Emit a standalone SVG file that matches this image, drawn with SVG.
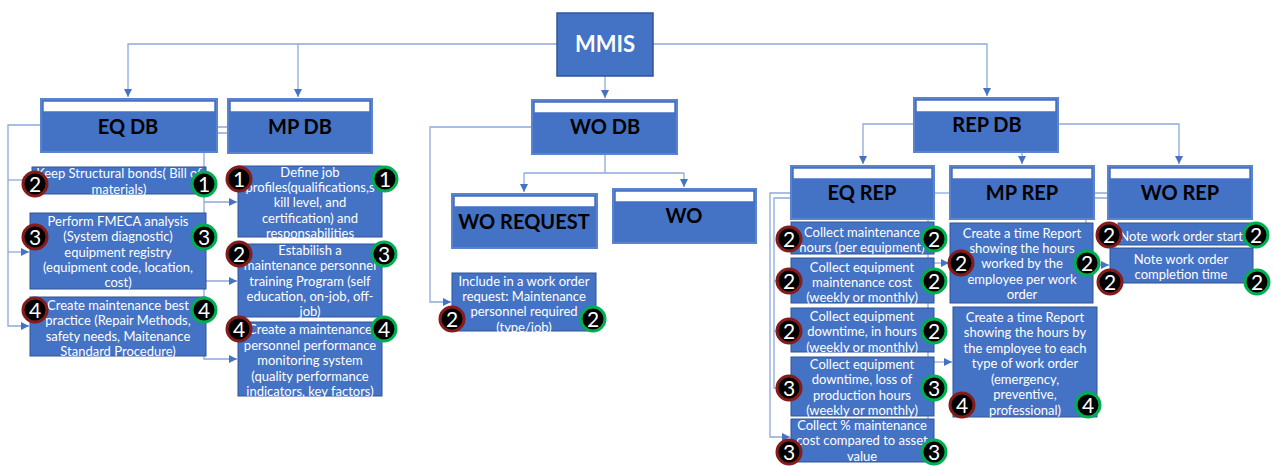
<svg xmlns="http://www.w3.org/2000/svg" width="1274" height="466" viewBox="0 0 1274 466">
<defs>
<marker id="arr" markerUnits="userSpaceOnUse" markerWidth="9" markerHeight="8" refX="8" refY="4" orient="auto">
<path d="M0,0 L8,4 L0,8 z" fill="#4472C4"/>
</marker>
<style>
.c{fill:none;stroke:#8EA9DB;stroke-width:1.3}
.box{fill:#4472C4;stroke:#2F5597;stroke-width:1}
.hdr{fill:#4472C4;stroke:#5B84D0;stroke-width:2}
.strip{fill:#fff;stroke:#4472C4;stroke-width:1.5}
.t{font-family:Lato,"Liberation Sans",sans-serif;font-size:13px;fill:#fff;text-anchor:middle}
.h{font-family:Lato,"Liberation Sans",sans-serif;font-weight:bold;font-size:20px;fill:#000;text-anchor:middle}
.r{fill:#000;stroke:#841C1C;stroke-width:3}
.g{fill:#000;stroke:#00B050;stroke-width:3}
.n{font-family:Lato,"Liberation Sans",sans-serif;font-size:21px;fill:#fff;text-anchor:middle}
</style>
</defs>
<rect width="1274" height="466" fill="#fff"/>

<g id="connectors">
<path class="c" d="M557,44 H128 V97" marker-end="url(#arr)"/>
<path class="c" d="M298,44 V97" marker-end="url(#arr)"/>
<path class="c" d="M653,44 H987 V96" marker-end="url(#arr)"/>
<path class="c" d="M605,76 V98" marker-end="url(#arr)"/>
<path class="c" d="M41,125 H8 V326 H29" marker-end="url(#arr)"/>
<path class="c" d="M8,252 H29" marker-end="url(#arr)"/>
<path class="c" d="M8,180 H24"/>
<path class="c" d="M217,127 H228 M217,133 H228"/>
<path class="c" d="M204,152 V359 H237" marker-end="url(#arr)"/>
<path class="c" d="M204,202 H237" marker-end="url(#arr)"/>
<path class="c" d="M204,281 H237" marker-end="url(#arr)"/>
<path class="c" d="M532,127 H430 V302 H451" marker-end="url(#arr)"/>
<path class="c" d="M605,154 V173 M524,173 H684"/>
<path class="c" d="M524,173 V192" marker-end="url(#arr)"/>
<path class="c" d="M684,173 V187" marker-end="url(#arr)"/>
<path class="c" d="M914,124 H863 V164" marker-end="url(#arr)"/>
<path class="c" d="M1058,124 H1179 V164" marker-end="url(#arr)"/>
<path class="c" d="M1022,152 V164" marker-end="url(#arr)"/>
<path class="c" d="M791,193 H770 V437 H790" marker-end="url(#arr)"/>
<path class="c" d="M791,198 H774 V388 H779 M774,281 H779 M774,331 H779"/>
<path class="c" d="M934,193 H950"/>
<path class="c" d="M1094,193 H1108 M1094,198 H1108"/>
<path class="c" d="M928,219 V419"/>
<path class="c" d="M928,263 H949" marker-end="url(#arr)"/>
<path class="c" d="M928,362 H952" marker-end="url(#arr)"/>
<path class="c" d="M1093,265 H1109" marker-end="url(#arr)"/>
<path class="c" d="M1086,219 V223"/>
</g>

<g id="mmis">
<rect x="557" y="13" width="96" height="63" fill="#4472C4" stroke="#2F5597" stroke-width="1.5"/>
<text x="605" y="52" font-family="Lato,'Liberation Sans',sans-serif" font-weight="bold" font-size="22" fill="#fff" text-anchor="middle">MMIS</text>
</g>

<g id="eq-db">
<rect class="hdr" x="41" y="99" width="176" height="53"/>
<rect class="strip" x="43" y="101" width="172" height="11"/>
<text class="h" x="128" y="134">EQ DB</text>
</g>
<g id="mp-db">
<rect class="hdr" x="228" y="99" width="144" height="54"/>
<rect class="strip" x="230" y="101" width="140" height="11"/>
<text class="h" x="300" y="134">MP DB</text>
</g>
<g id="wo-db">
<rect class="hdr" x="532" y="100" width="145" height="54"/>
<rect class="strip" x="534" y="102" width="141" height="11"/>
<text class="h" x="605" y="134">WO DB</text>
</g>
<g id="rep-db">
<rect class="hdr" x="914" y="98" width="144" height="54"/>
<rect class="strip" x="916" y="100" width="140" height="12"/>
<text class="h" x="987" y="132">REP DB</text>
</g>
<g id="wo-request">
<rect class="hdr" x="452" y="194" width="145" height="54"/>
<rect class="strip" x="454" y="196" width="141" height="11"/>
<text class="h" x="524" y="229">WO REQUEST</text>
</g>
<g id="wo">
<rect class="hdr" x="613" y="189" width="143" height="54"/>
<rect class="strip" x="615" y="191" width="139" height="11"/>
<text class="h" x="684" y="223">WO</text>
</g>
<g id="eq-rep">
<rect class="hdr" x="791" y="166" width="143" height="53"/>
<rect class="strip" x="793" y="168" width="139" height="11"/>
<text class="h" x="862" y="200">EQ REP</text>
</g>
<g id="mp-rep">
<rect class="hdr" x="950" y="166" width="144" height="53"/>
<rect class="strip" x="952" y="168" width="140" height="11"/>
<text class="h" x="1022" y="200">MP REP</text>
</g>
<g id="wo-rep">
<rect class="hdr" x="1108" y="166" width="144" height="53"/>
<rect class="strip" x="1110" y="168" width="140" height="11"/>
<text class="h" x="1180" y="200">WO REP</text>
</g>

<!-- EQ DB children -->
<g id="eq-db-1">
<rect class="box" x="32" y="167" width="174" height="27"/>
<text class="t" x="119" y="177.5">Keep Structural bonds( Bill of</text>
<text class="t" x="119" y="193.5">materials)</text>
<circle class="r" cx="35" cy="184" r="12"/><text class="n" x="35" y="191.5">2</text>
<circle class="g" cx="204" cy="184" r="12"/><text class="n" x="204" y="191.5">1</text>
</g>
<g id="eq-db-2">
<rect class="box" x="30" y="213" width="176" height="76"/>
<text class="t" x="118" y="225.5">Perform FMECA analysis</text>
<text class="t" x="118" y="240.5">(System diagnostic)</text>
<text class="t" x="118" y="256.5">equipment registry</text>
<text class="t" x="118" y="271.5">(equipment code, location,</text>
<text class="t" x="118" y="286.5">cost)</text>
<circle class="r" cx="35" cy="237" r="12"/><text class="n" x="35" y="244.5">3</text>
<circle class="g" cx="204" cy="237" r="12"/><text class="n" x="204" y="244.5">3</text>
</g>
<g id="eq-db-3">
<rect class="box" x="30" y="297" width="176" height="59"/>
<text class="t" x="118" y="309.5">Create maintenance best</text>
<text class="t" x="118" y="324.5">practice (Repair Methods,</text>
<text class="t" x="118" y="340.5">safety needs, Maitenance</text>
<text class="t" x="118" y="355.5">Standard Procedure)</text>
<circle class="r" cx="35" cy="310" r="12"/><text class="n" x="35" y="317.5">4</text>
<circle class="g" cx="204" cy="310" r="12"/><text class="n" x="204" y="317.5">4</text>
</g>

<!-- MP DB children -->
<g id="mp-db-1">
<rect class="box" x="238" y="166" width="144" height="71"/>
<text class="t" x="310" y="176.5">Define job</text>
<text class="t" x="310" y="191.5">profiles(qualifications,s</text>
<text class="t" x="310" y="206.5">kill level, and</text>
<text class="t" x="310" y="222.5">certification) and</text>
<text class="t" x="310" y="237.5">responsabilities</text>
<circle class="r" cx="239" cy="179" r="12"/><text class="n" x="239" y="186.5">1</text>
<circle class="g" cx="385" cy="179" r="12"/><text class="n" x="385" y="186.5">1</text>
</g>
<g id="mp-db-2">
<rect class="box" x="238" y="244" width="144" height="73"/>
<text class="t" x="310" y="254.5">Estabilish a</text>
<text class="t" x="310" y="269.5">maintenance personnel</text>
<text class="t" x="310" y="285.5">training Program (self</text>
<text class="t" x="310" y="300.5">education, on-job, off-</text>
<text class="t" x="310" y="315.5">job)</text>
<circle class="r" cx="239" cy="254" r="12"/><text class="n" x="239" y="261.5">2</text>
<circle class="g" cx="384" cy="254" r="12"/><text class="n" x="384" y="261.5">3</text>
</g>
<g id="mp-db-3">
<rect class="box" x="238" y="322" width="144" height="74"/>
<text class="t" x="310" y="333.5">Create a maintenance</text>
<text class="t" x="310" y="349.5">personnel performance</text>
<text class="t" x="310" y="364.5">monitoring system</text>
<text class="t" x="310" y="380.5">(quality performance</text>
<text class="t" x="310" y="395.5">indicators, key factors)</text>
<circle class="r" cx="239" cy="329" r="12"/><text class="n" x="239" y="336.5">4</text>
<circle class="g" cx="384" cy="329" r="12"/><text class="n" x="384" y="336.5">4</text>
</g>

<!-- WO DB child -->
<g id="wo-include">
<rect class="box" x="452" y="273" width="144" height="58"/>
<text class="t" x="524" y="285.5">Include in a work order</text>
<text class="t" x="524" y="300.5">request: Maintenance</text>
<text class="t" x="524" y="315.5">personnel required</text>
<text class="t" x="524" y="331.5">(type/job)</text>
<circle class="r" cx="452" cy="319" r="12"/><text class="n" x="452" y="326.5">2</text>
<circle class="g" cx="593" cy="319" r="12"/><text class="n" x="593" y="326.5">2</text>
</g>

<!-- EQ REP children -->
<g id="eq-rep-1">
<rect class="box" x="791" y="222" width="143" height="32"/>
<text class="t" x="862" y="236.5">Collect maintenance</text>
<text class="t" x="862" y="251.5">hours (per equipment)</text>
<circle class="r" cx="789" cy="239" r="12"/><text class="n" x="789" y="246.5">2</text>
<circle class="g" cx="934" cy="239" r="12"/><text class="n" x="934" y="246.5">2</text>
</g>
<g id="eq-rep-2">
<rect class="box" x="791" y="258" width="143" height="45"/>
<text class="t" x="862" y="271.5">Collect equipment</text>
<text class="t" x="862" y="286.5">maintenance cost</text>
<text class="t" x="862" y="301.5">(weekly or monthly)</text>
<circle class="r" cx="789" cy="281" r="12"/><text class="n" x="789" y="288.5">2</text>
<circle class="g" cx="934" cy="281" r="12"/><text class="n" x="934" y="288.5">2</text>
</g>
<g id="eq-rep-3">
<rect class="box" x="791" y="308" width="143" height="44"/>
<text class="t" x="862" y="320.5">Collect equipment</text>
<text class="t" x="862" y="335.5">downtime, in hours</text>
<text class="t" x="862" y="351.5">(weekly or monthly)</text>
<circle class="r" cx="789" cy="331" r="12"/><text class="n" x="789" y="338.5">2</text>
<circle class="g" cx="934" cy="331" r="12"/><text class="n" x="934" y="338.5">2</text>
</g>
<g id="eq-rep-4">
<rect class="box" x="791" y="357" width="143" height="59"/>
<text class="t" x="862" y="368.5">Collect equipment</text>
<text class="t" x="862" y="383.5">downtime, loss of</text>
<text class="t" x="862" y="399.5">production hours</text>
<text class="t" x="862" y="414.5">(weekly or monthly)</text>
<circle class="r" cx="789" cy="388" r="12"/><text class="n" x="789" y="395.5">3</text>
<circle class="g" cx="934" cy="388" r="12"/><text class="n" x="934" y="395.5">3</text>
</g>
<g id="eq-rep-5">
<rect class="box" x="791" y="419" width="143" height="43"/>
<text class="t" x="862" y="429.5">Collect % maintenance</text>
<text class="t" x="862" y="444.5">cost compared to asset</text>
<text class="t" x="862" y="460.5">value</text>
<circle class="r" cx="789" cy="452" r="12"/><text class="n" x="789" y="459.5">3</text>
<circle class="g" cx="934" cy="452" r="12"/><text class="n" x="934" y="459.5">3</text>
</g>

<!-- MP REP children -->
<g id="mp-rep-1">
<rect class="box" x="950" y="223" width="143" height="80"/>
<text class="t" x="1022" y="237.5">Create a time Report</text>
<text class="t" x="1022" y="252.5">showing the hours</text>
<text class="t" x="1022" y="267.5">worked by the</text>
<text class="t" x="1022" y="283.5">employee per work</text>
<text class="t" x="1022" y="298.5">order</text>
<circle class="r" cx="961" cy="263" r="12"/><text class="n" x="961" y="270.5">2</text>
<circle class="g" cx="1087" cy="263" r="12"/><text class="n" x="1087" y="270.5">2</text>
</g>
<g id="mp-rep-2">
<rect class="box" x="953" y="307" width="144" height="110"/>
<text class="t" x="1025" y="321.5">Create a time Report</text>
<text class="t" x="1025" y="336.5">showing the hours by</text>
<text class="t" x="1025" y="352.5">the employee to each</text>
<text class="t" x="1025" y="367.5">type of work order</text>
<text class="t" x="1025" y="383.5">(emergency,</text>
<text class="t" x="1025" y="398.5">preventive,</text>
<text class="t" x="1025" y="414.5">professional)</text>
<circle class="r" cx="962" cy="405" r="12"/><text class="n" x="962" y="412.5">4</text>
<circle class="g" cx="1088" cy="405" r="12"/><text class="n" x="1088" y="412.5">4</text>
</g>

<!-- WO REP children -->
<g id="wo-rep-1">
<rect class="box" x="1118" y="223" width="133" height="22"/>
<text class="t" x="1181" y="240.5">Note work order start</text>
<circle class="r" cx="1109" cy="235" r="12"/><text class="n" x="1109" y="242.5">2</text>
<circle class="g" cx="1256" cy="235" r="12"/><text class="n" x="1256" y="242.5">2</text>
</g>
<g id="wo-rep-2">
<rect class="box" x="1110" y="248" width="143" height="35"/>
<text class="t" x="1181" y="263.5">Note work order</text>
<text class="t" x="1181" y="278.5">completion time</text>
<circle class="r" cx="1110" cy="282" r="12"/><text class="n" x="1110" y="289.5">2</text>
<circle class="g" cx="1257" cy="282" r="12"/><text class="n" x="1257" y="289.5">2</text>
</g>
</svg>
